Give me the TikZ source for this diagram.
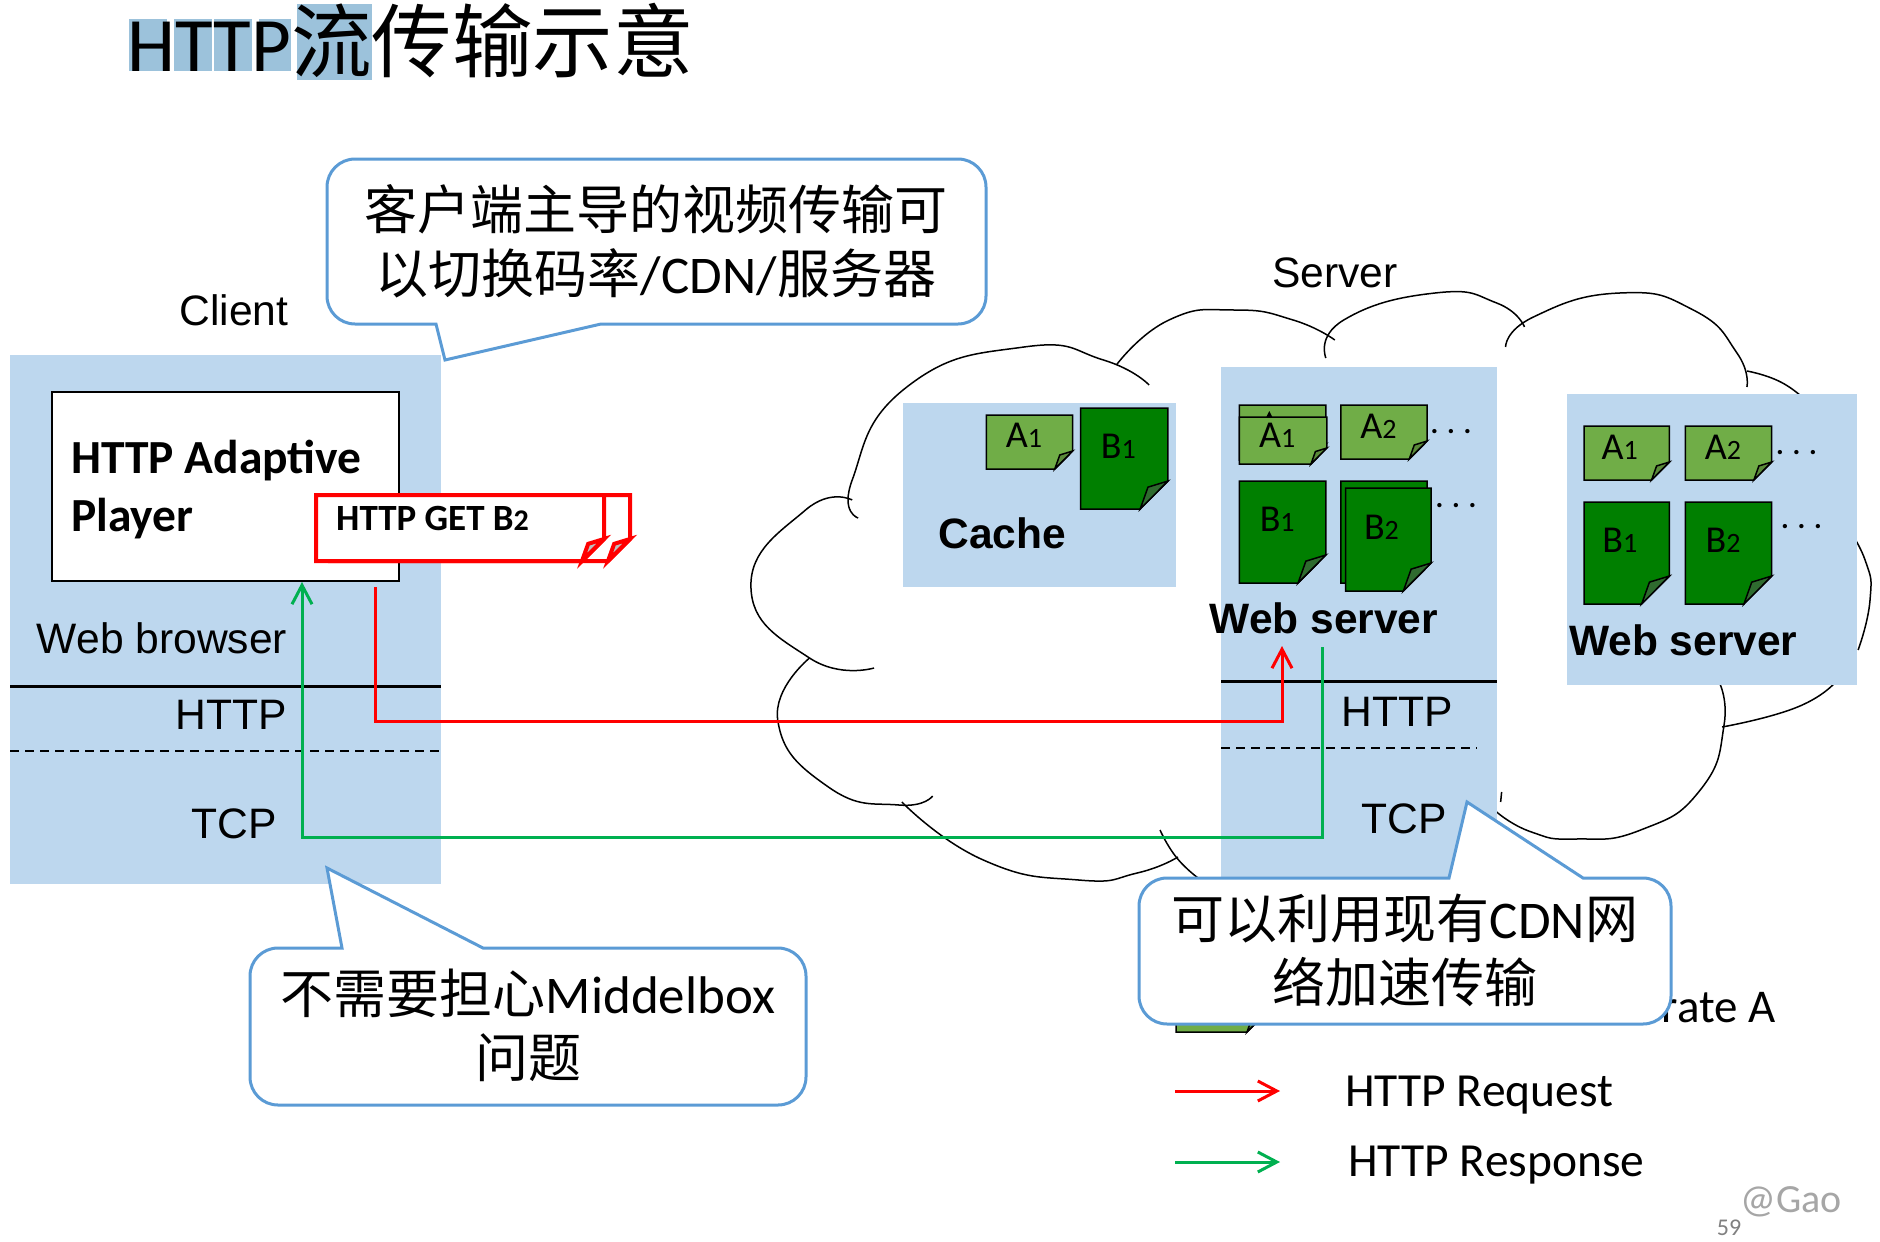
\documentclass[tikz,border=0pt]{standalone}
\usepackage{fontspec}
\setmainfont{Carlito}
\newfontfamily\arialfont{Liberation Sans}
\newfontfamily\cjk{Noto Sans CJK SC}
\usetikzlibrary{arrows.meta,positioning,calc}
\definecolor{panelblue}{HTML}{BDD7EE}
\definecolor{markblue}{HTML}{9CC2DB}
\definecolor{calloutblue}{HTML}{5B9BD5}
\definecolor{respgreen}{HTML}{00B050}
\definecolor{lightpage}{HTML}{70AD47}
\definecolor{lightfold}{HTML}{5A8A39}
\definecolor{darkpage}{HTML}{007F00}
\definecolor{darkfold}{HTML}{2F6B2F}
\newcommand{\psize}[1]{\fontsize{#1}{#1}\selectfont}
\newcommand{\zh}[1]{{\cjk #1}}
\newcommand{\sheet}[7]{%
  \draw[#6] (#1,#2) -- ++(#3,0) -- ++(0,#4-#5) -- ++(-#5,#5) -- ++(-#3+#5,0) -- cycle;
  \draw[#6,fill=#7] (#1+#3,#2+#4-#5) -- (#1+#3-#5,#2+#4) -- ++(0.28*#5,-0.78*#5) -- cycle;
}
\tikzset{
  panel/.style={fill=panelblue,anchor=north west,inner sep=0pt},
  bigtext/.style={font=\arialfont\psize{42.6}},
  boldtext/.style={font=\arialfont\bfseries\psize{42.5}},
  legendtext/.style={font=\psize{47.5},anchor=west},
  sheettext/.style={font=\psize{38}},
  calloutbox/.style={draw=calloutblue,fill=white,line width=3pt},
  callouttext/.style={font=\fontsize{53}{64}\selectfont,align=center},
  cloudline/.style={draw=black,line width=1.5pt},
  lightsheet/.style={draw=black,line width=1.5pt,fill=lightpage},
  darksheet/.style={draw=black,line width=1.5pt,fill=darkpage},
  reqsheet/.style={draw=red,line width=4pt,fill=white},
  reqline/.style={draw=red,line width=3pt},
  respline/.style={draw=respgreen,line width=3pt},
  moredots/.style={font=\psize{29}},
  tip/.style={-{Straight Barb[length=19pt,width=20pt,line width=3pt]}},
  zoomed/.style={x=0.993pt,xshift=5.18pt}
}
\begin{document}
\begin{tikzpicture}[x=1pt,y=-1pt,every node/.append style={inner sep=0pt}]
        \useasboundingbox (0,0) rectangle (1880,1242);
        \fill[markblue] (129,19) rectangle (167,71);
        \fill[markblue] (174,19) rectangle (212,71);
        \fill[markblue] (214,19) rectangle (252,71);
        \fill[markblue] (259,19) rectangle (291,71);
        \fill[markblue] (297,4) rectangle (372,80);
        \node[anchor=base west,font=\psize{77}] (title) at (127,71) {HTTP\fontsize{80.5}{80}\selectfont\zh{流传输示意}};
        \begin{scope}[zoomed]
        \draw[cloudline] plot[smooth,tension=0.9] coordinates {(859,518) (853,480) (908,387) (1026,347) (1106,360) (1152,385)};
        \draw[cloudline] plot[smooth,tension=0.9] coordinates {(1119,365) (1172,320) (1238,310) (1297,320) (1339,340)};
        \draw[cloudline] plot[smooth,tension=0.9] coordinates {(1330,358) (1348,320) (1440,293) (1502,303) (1530,327)};
        \draw[cloudline] plot[smooth,tension=0.9] coordinates {(1511,347) (1539,317) (1626,293) (1700,310) (1744,353) (1754,387)};
        \draw[cloudline] plot[smooth,tension=0.9] coordinates {(1754,371) (1788,382) (1815,402)};
        \draw[cloudline] plot[smooth,tension=0.9] coordinates {(1850,520) (1873,560) (1878,600) (1866,650)};
        \draw[cloudline] plot[smooth,tension=0.9] coordinates {(1725,680) (1731,725) (1707,790) (1647,830) (1582,839) (1537,832) (1502,812)};
        \draw[cloudline] plot[smooth,tension=0.9] coordinates {(1845,680) (1805,707) (1729,727)};
        \draw[cloudline] (1507,792) -- (1506,802);
        \draw[cloudline] plot[smooth,tension=0.9] coordinates {(853,500) (806,510) (751,587) (810,658) (875,668)};
        \draw[cloudline] plot[smooth,tension=0.9] coordinates {(810,658) (778,720) (829,787) (900,805) (934,796)};
        \draw[cloudline] plot[smooth,tension=0.9] coordinates {(903,802) (985,860) (1081,880) (1140,873) (1181,857)};
        \draw[cloudline] plot[smooth,tension=0.9] coordinates {(1163,830) (1180,858) (1204,880)};
        \end{scope}
        \node[panel,minimum width=431pt,minimum height=529pt] (clientpanel) at (10,355) {};
        \node[panel,minimum width=273pt,minimum height=184pt] (cachepanel) at (903,403) {};
        \node[panel,minimum width=276pt,minimum height=520pt] (webpanela) at (1221,367) {};
        \node[panel,minimum width=290pt,minimum height=291pt] (webpanelb) at (1567,394) {};
        \node[font=\arialfont\psize{42.6}] (client) at (234,310) {Client};
        \node[bigtext] (server) at (1335,273) {Server};
        \node[bigtext] (browser) at (162,638) {Web browser};
        \node[bigtext] (httpa) at (231,715) {HTTP};
        \node[bigtext] (tcpa) at (234,824) {TCP};
        \node[bigtext] (httpb) at (1397,712) {HTTP};
        \node[bigtext] (tcpb) at (1404,819) {TCP};
        \begin{scope}[zoomed]
        \node[boldtext] (cache) at (1004,533) {Cache};
        \node[boldtext] (servera) at (1328,618) {Web server};
        \node[boldtext] (serverb) at (1690,640) {Web server};
        \end{scope}
        \draw[line width=3pt] (clientpanel.west |- 0,686) coordinate (sola) -- (clientpanel.east |- 0,686) coordinate (solb);
        \draw[line width=2pt,dashed,dash pattern=on 9pt off 6pt] (clientpanel.west |- 0,751) coordinate (dasha) -- (clientpanel.east |- 0,751) coordinate (dashb);
        \draw[line width=3pt] (webpanela.west |- 0,681) coordinate (solc) -- (webpanela.east |- 0,681) coordinate (sold);
        \draw[line width=2pt,dashed,dash pattern=on 9pt off 6pt] (webpanela.west |- 0,748) coordinate (dashc) -- (1477,748) coordinate (dashd);
        \begin{scope}[zoomed]
        \sheet{988}{415}{87}{54}{18}{lightsheet}{lightfold}
        \node[sheettext] (cacheA) at (1026,435) {A\psize{28}1};
        \sheet{1083}{408}{88}{101}{28}{darksheet}{darkfold}
        \node[sheettext] (cacheB) at (1121,446) {B\psize{28}1};
        \sheet{1243}{405}{87}{55}{16}{lightsheet}{lightfold}
        \fill (1270,417) -- (1273,411) -- (1276,417) -- cycle;
        \sheet{1243}{417}{88}{47}{16}{lightsheet}{lightfold}
        \node[sheettext] (webAa) at (1281,435) {A\psize{28}1};
        \sheet{1345}{405}{87}{54}{18}{lightsheet}{lightfold}
        \node[sheettext] (webAb) at (1383,426) {A\psize{28}2};
        \sheet{1243}{481}{87}{102}{28}{darksheet}{darkfold}
        \node[sheettext] (webBa) at (1281,519) {B\psize{28}1};
        \sheet{1345}{481}{87}{102}{28}{darksheet}{darkfold}
        \sheet{1350}{488}{86}{103}{28}{darksheet}{darkfold}
        \node[sheettext] (webBb) at (1386,527) {B\psize{28}2};
        \sheet{1590}{426}{86}{54}{18}{lightsheet}{lightfold}
        \node[sheettext] (edgeAa) at (1626,447) {A\psize{28}1};
        \sheet{1692}{426}{87}{54}{18}{lightsheet}{lightfold}
        \node[sheettext] (edgeAb) at (1730,447) {A\psize{28}2};
        \sheet{1590}{502}{86}{102}{28}{darksheet}{darkfold}
        \node[sheettext] (edgeBa) at (1626,540) {B\psize{28}1};
        \sheet{1692}{502}{87}{102}{28}{darksheet}{darkfold}
        \node[sheettext] (edgeBb) at (1730,540) {B\psize{28}2};
        \node[moredots,anchor=base] (dotsa) at (1456,433) {\bfseries. . .};
        \node[moredots,anchor=base] (dotsb) at (1461,507) {\bfseries. . .};
        \node[moredots,anchor=base] (dotsc) at (1804,454) {\bfseries. . .};
        \node[moredots,anchor=base] (dotsd) at (1809,528) {\bfseries. . .};
        \end{scope}
        \node[draw=black,fill=white,line width=2pt,anchor=north west,minimum width=347pt,minimum height=189pt] (player) at (51,391) {};
        \node[font=\bfseries\fontsize{47.5}{58}\selectfont,anchor=west,align=left] (playertext) at (71,490) {HTTP Adaptive\\Player};
        \sheet{330}{495}{300}{66}{22}{reqsheet}{lightgray}
        \sheet{316}{495}{288}{66}{22}{reqsheet}{lightgray}
        \node[anchor=base west,font=\bfseries\psize{37}] (gettext) at (336,530) {HTTP GET B\psize{30}2};
        \coordinate (reqstart) at (375,587);
        \coordinate (reqbend) at (1282,721);
        \coordinate (reqend) at (1282,646);
        \draw[reqline,tip] (reqstart) |- (reqbend) -- (reqend);
        \coordinate (respstart) at (1322,647);
        \coordinate (respbend) at (302,837);
        \coordinate (respend) at (302,582);
        \draw[respline,tip] (respstart) |- (respbend) -- (respend);
        \sheet{1176}{980}{87}{52}{16}{lightsheet}{lightfold}
        \node[anchor=base east,font=\psize{47}] (ratetext) at (1776,1022) {rate A};
        \draw[calloutbox] (700,324) [rounded corners=28pt] -- (986,324) -- (986,159) -- (327,159) -- (327,324) -- (400,324) [sharp corners] -- (436,324) -- (445,360) -- (601,324) -- cycle;
        \node[callouttext] (noteswitch) at (656,241) {\zh{客户端主导的视频传输可}\\\zh{以切换码率}/CDN/\zh{服务器}};
        \draw[calloutbox] (600,948) [rounded corners=28pt] -- (806,948) -- (806,1105) -- (250,1105) -- (250,948) -- (310,948) [sharp corners] -- (342,948) -- (327,868) -- (483,948) -- cycle;
        \node[callouttext] (notebox) at (528,1025) {\zh{不需要担心}Middelbox\\\zh{问题}};
        \draw[calloutbox] (1620,878) [rounded corners=28pt] -- (1671,878) -- (1671,1024) -- (1139,1024) -- (1139,878) -- (1300,878) [sharp corners] -- (1449,878) -- (1467,802) -- (1583,878) -- cycle;
        \node[callouttext] (notecdn) at (1405,950) {\zh{可以利用现有}CDN\zh{网}\\\zh{络加速传输}};
        \coordinate (legreqa) at (1175,1091);
        \coordinate (legreqb) at (1280,1091);
        \coordinate (legrespa) at (1175,1162);
        \coordinate (legrespb) at (1280,1162);
        \draw[reqline,tip] (legreqa) -- (legreqb);
        \draw[respline,tip] (legrespa) -- (legrespb);
        \node[legendtext] (legreq) at (1345,1095) {HTTP Request};
        \node[legendtext] (legresp) at (1348,1165) {HTTP Response};
        \node[text=gray!70,font=\psize{40}] (mark) at (1791,1202) {@Gao};
        \node[text=gray,font=\psize{24}] (pagenum) at (1729,1228) {59};
\end{tikzpicture}
\end{document}
